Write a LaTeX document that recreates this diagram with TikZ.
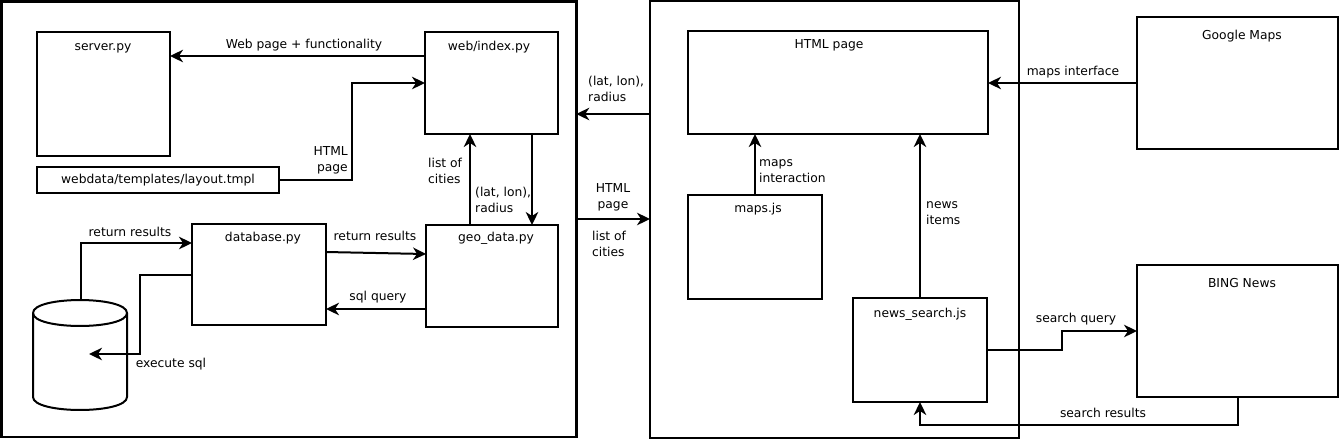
\documentclass[tikz,border=0pt]{standalone}
\usepackage{fontspec}
\setmainfont{DejaVu Sans}
\usetikzlibrary{arrows.meta}
\begin{document}
\begin{tikzpicture}[x=1pt,y=-1pt,
  font=\fontsize{12.3}{16}\selectfont,
  box/.style={draw,line width=2pt,inner sep=0pt,outer sep=0pt,anchor=north west},
  bigbox/.style={box,line width=2.5pt},
  midbox/.style={box,line width=1.8pt},
  ttl/.style={anchor=base,inner sep=0pt},
  lbl/.style={inner sep=0pt},
  arr/.style={line width=2pt,-{Stealth[length=13pt,width=12.5pt,inset=4pt]}},
  ln/.style={line width=2pt}]
\useasboundingbox (0,0) rectangle (1339,440);
% outer containers
\node[bigbox,minimum width=575pt,minimum height=435.5pt] (outerL) at (1.25,1.25) {};
\node[midbox,minimum width=369pt,minimum height=437pt] (outerM) at (650,1) {};
% left side boxes
\node[box,minimum width=133pt,minimum height=124pt] (server) at (37,32) {};
\node[box,minimum width=133pt,minimum height=102pt] (index) at (425,32) {};
\node[box,minimum width=242pt,minimum height=26pt] (layout) at (37,167) {};
\node[box,minimum width=134pt,minimum height=101pt] (database) at (192,224) {};
\node[box,minimum width=132pt,minimum height=102pt] (geo) at (426,225) {};
% middle boxes
\node[box,minimum width=300pt,minimum height=103pt] (html) at (688,31) {};
\node[box,minimum width=134pt,minimum height=104pt] (mapsjs) at (688,195) {};
\node[box,minimum width=134pt,minimum height=104pt] (news) at (853,298) {};
% right boxes
\node[box,minimum width=201pt,minimum height=132pt] (gmaps) at (1137,17) {};
\node[box,minimum width=201pt,minimum height=132pt] (bing) at (1137,265) {};
% titles
\node[ttl] (tserver) at (103,50) {server.py};
\node[ttl] (tindex) at (489,50) {web/index.py};
\node[lbl] (tlayout) at (layout.center) {webdata/templates/layout.tmpl};
\node[ttl] (tdatabase) at (263,241) {database.py};
\node[ttl] (tgeo) at (496,241) {geo\_data.py};
\node[ttl] (thtml) at (829,48) {HTML page};
\node[ttl] (tmapsjs) at (758,212) {maps.js};
\node[ttl] (tnews) at (920,317) {news\_search.js};
\node[ttl] (tgmaps) at (1242,39) {Google Maps};
\node[ttl] (tbing) at (1242,287) {BING News};
% database cylinder
\draw[ln,fill=white] (33,313) -- (33,397) .. controls (33,414.3) and (127,414.3) .. (127,397) -- (127,313);
\draw[ln] (33,313) .. controls (33,295.7) and (127,295.7) .. (127,313) .. controls (127,330.3) and (33,330.3) .. (33,313);
\coordinate (dbtop) at (81,300);
\coordinate (dbin) at (89,354);
% connectors left
\coordinate (p1) at ([yshift=-24pt]index.north west);
\draw[arr] (p1) -- (p1 -| server.east);
\coordinate (p2) at ([yshift=-51pt]index.north west);
\draw[arr] (layout.east) -- ++(73pt,0) |- (p2);
\coordinate (p3) at ([xshift=44pt]geo.north west);
\draw[arr] (p3) -- (p3 |- index.south);
\coordinate (p4) at ([xshift=107pt]index.south west);
\draw[arr] (p4) -- (p4 |- geo.north);
\draw[arr] ([yshift=-28pt]database.north east) -- ([yshift=-29pt]geo.north west);
\coordinate (p6) at ([yshift=-84pt]geo.north west);
\draw[arr] (p6) -- (p6 -| database.east);
\draw[arr] (dbtop) |- ([yshift=-19pt]database.north west);
\draw[arr] ([yshift=-51pt]database.north west) -| ([xshift=51pt]dbin) -- (dbin);
% connectors between containers
\coordinate (p9) at ([yshift=-113pt]outerM.north west);
\draw[arr] (p9) -- (p9 -| outerL.east);
\draw[arr] (outerL.east) -- (outerL.east -| outerM.west);
% connectors middle/right
\draw[arr] (mapsjs.north) -- (mapsjs.north |- html.south);
\draw[arr] (news.north) -- (news.north |- html.south);
\draw[arr] (gmaps.west) -- (gmaps.west -| html.east);
\draw[arr] (news.east) -- ++(75pt,0) |- (bing.west);
\draw[arr] (bing.south) -- ++(0,-28pt) -| (news.south);
% labels
\node[lbl] (lweb) at (304,45) {Web page + functionality};
\node[lbl,align=right,anchor=east] (lhtml1) at (348,160) {HTML\\page};
\node[lbl,align=left,anchor=west] (lcities1) at (428,171) {list of\\cities};
\node[lbl,align=left,anchor=west] (llatlon1) at (475,200) {(lat, lon),\\radius};
\node[lbl] (lret1) at (130,232) {return results};
\node[lbl] (lret2) at (375,236) {return results};
\node[lbl] (lsql) at (378,297) {sql query};
\node[lbl] (lexec) at (171,364) {execute sql};
\node[lbl,align=left,anchor=west] (llatlon2) at (588,89) {(lat, lon),\\radius};
\node[lbl,align=center] (lhtml2) at (613,197) {HTML\\page};
\node[lbl,align=left,anchor=west] (lcities2) at (592,244) {list of\\cities};
\node[lbl,align=left,anchor=west] (lmapsint) at (759,171) {maps\\interaction};
\node[lbl,align=left,anchor=west] (lnewsitems) at (926,213) {news\\items};
\node[lbl] (lmapsif) at (1073,72) {maps interface};
\node[lbl] (lsq) at (1076,319) {search query};
\node[lbl] (lsr) at (1103,413) {search results};
\end{tikzpicture}
\end{document}
